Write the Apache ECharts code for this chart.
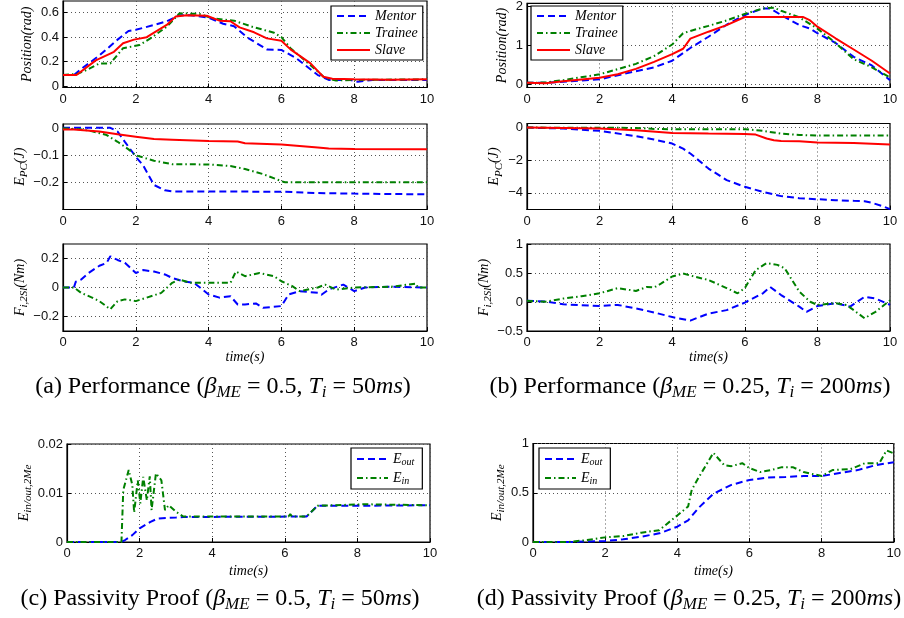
<!DOCTYPE html>
<html><head><meta charset="utf-8">
<script src="https://cdn.jsdelivr.net/npm/echarts@6/dist/echarts.min.js"></script>
<style>html,body{margin:0;padding:0;background:#fff}#c{width:904px;height:618px}</style>
</head><body><div id="c"></div>
<script>
// ---------- data ----------
const xTicks = [0, 2, 4, 6, 8, 10];
// (a) Position
const aPosMentor = [[0,0.09],[0.3,0.09],[0.5,0.14],[1,0.25],[1.5,0.38],[1.8,0.45],[2,0.46],[2.5,0.5],[2.85,0.53],[3.2,0.58],[3.5,0.58],[4,0.56],[4.4,0.51],[4.7,0.49],[5.05,0.4],[5.6,0.3],[6,0.295],[6.4,0.23],[7,0.09],[7.3,0.05],[7.9,0.05],[8.1,0.035],[8.5,0.05],[10,0.05]];
const aPosTrainee = [[0,0.09],[0.4,0.1],[0.64,0.13],[1,0.185],[1.3,0.185],[1.65,0.31],[2.1,0.335],[2.4,0.39],[2.85,0.485],[3.2,0.595],[3.75,0.59],[4.1,0.555],[4.7,0.535],[5.2,0.485],[5.8,0.436],[6,0.4],[6.25,0.31],[6.8,0.17],[7.2,0.065],[7.5,0.045],[8,0.05],[10,0.055]];
const aPosSlave = [[0,0.09],[0.37,0.09],[0.9,0.21],[1.4,0.28],[1.65,0.35],[1.95,0.38],[2.3,0.4],[2.85,0.5],[3.1,0.57],[3.4,0.58],[3.95,0.575],[4.3,0.535],[4.6,0.53],[4.85,0.48],[5.25,0.44],[5.6,0.39],[6,0.37],[6.25,0.3],[6.8,0.185],[7.15,0.076],[7.4,0.06],[8,0.055],[9,0.052],[10,0.055]];
// (b) Position
const bPosMentor = [[0,0.03],[0.5,0.03],[1,0.06],[2,0.12],[3,0.33],[3.5,0.43],[4,0.6],[4.5,0.93],[5,1.22],[5.5,1.53],[6,1.78],[6.5,1.95],[6.7,1.95],[7,1.78],[7.5,1.52],[7.8,1.43],[8,1.31],[8.5,1.06],[9,0.7],[9.5,0.48],[10,0.1]];
const bPosTrainee = [[0,0.03],[0.5,0.04],[1,0.1],[2,0.25],[3,0.52],[3.5,0.72],[4,1.02],[4.3,1.31],[4.5,1.37],[5,1.5],[5.5,1.64],[6,1.81],[6.5,1.95],[6.8,1.97],[7,1.89],[7.5,1.72],[8,1.43],[8.5,1.06],[9,0.64],[9.5,0.43],[10,0.17]];
const bPosSlave = [[0,0.03],[0.5,0.02],[1,0.07],[2,0.16],[2.5,0.25],[3,0.39],[3.5,0.57],[4,0.77],[4.3,0.91],[4.5,1.17],[5,1.35],[5.5,1.52],[6,1.73],[7.6,1.73],[7.8,1.64],[8,1.48],[8.5,1.18],[9,0.89],[9.5,0.6],[10,0.27]];
// (a) E_PC
const aEpcMentor = [[0,0.002],[1.3,0.002],[1.5,-0.012],[1.7,-0.05],[1.9,-0.087],[2,-0.106],[2.2,-0.137],[2.5,-0.21],[2.8,-0.23],[3,-0.234],[6,-0.235],[7,-0.24],[8,-0.242],[10,-0.245]];
const aEpcTrainee = [[0,0],[0.5,-0.004],[0.8,-0.011],[1.2,-0.025],[1.5,-0.05],[1.8,-0.078],[2,-0.1],[2.5,-0.12],[3,-0.133],[4,-0.134],[4.6,-0.14],[5,-0.151],[5.5,-0.17],[6,-0.196],[6.1,-0.2],[10,-0.2]];
const aEpcSlave = [[0,-0.004],[0.3,-0.004],[1,-0.012],[1.5,-0.022],[2,-0.031],[2.5,-0.04],[3,-0.042],[4,-0.047],[4.8,-0.049],[5,-0.055],[6,-0.06],[7,-0.071],[7.3,-0.075],[8,-0.077],[10,-0.078]];
// (b) E_PC
const bEpcMentor = [[0,0],[1,-0.06],[2,-0.2],[3,-0.53],[3.5,-0.73],[4,-0.98],[4.3,-1.29],[4.5,-1.59],[5,-2.51],[5.5,-3.22],[6,-3.63],[6.5,-3.94],[7,-4.2],[7.5,-4.33],[8,-4.39],[8.5,-4.45],[9,-4.49],[9.3,-4.51],[9.5,-4.61],[9.8,-4.82],[10,-5.0]];
const bEpcTrainee = [[0,0],[3,-0.02],[3.5,-0.08],[4,-0.1],[6,-0.1],[6.5,-0.2],[7,-0.37],[7.5,-0.45],[8,-0.49],[10,-0.49]];
const bEpcSlave = [[0,0],[2,-0.06],[3,-0.16],[4,-0.33],[5,-0.37],[6,-0.39],[6.3,-0.43],[6.6,-0.67],[6.8,-0.78],[7,-0.82],[7.5,-0.84],[8,-0.92],[9,-0.94],[10,-1.04]];
// (a) F
const aFMentor = [[0,0],[0.3,0],[0.35,0.04],[0.5,0.055],[0.7,0.1],[1,0.15],[1.2,0.17],[1.3,0.215],[1.5,0.19],[1.7,0.17],[2,0.1],[2.2,0.12],[2.5,0.11],[2.8,0.09],[3,0.066],[3.3,0.043],[3.6,0.032],[4,-0.048],[4.3,-0.07],[4.6,-0.06],[4.8,-0.117],[5,-0.117],[5.3,-0.11],[5.5,-0.14],[6,-0.128],[6.2,-0.048],[6.5,-0.025],[7,-0.037],[7.1,-0.05],[7.3,-0.014],[7.7,0.02],[8,-0.025],[8.3,0],[9,0.005],[10,0]];
const aFTrainee = [[0,0],[0.3,0],[0.5,-0.037],[0.8,-0.07],[1,-0.094],[1.3,-0.15],[1.5,-0.094],[1.7,-0.082],[2,-0.094],[2.3,-0.07],[2.7,-0.037],[3,0.032],[3.2,0.055],[3.5,0.032],[4,0.032],[4.6,0.032],[4.75,0.11],[5,0.078],[5.4,0.1],[5.8,0.078],[6,0.043],[6.3,0.009],[6.5,-0.025],[7,0],[7.2,0.02],[7.5,-0.014],[8,0],[9,0.005],[9.7,0.027],[9.75,0],[10,0]];
// (b) F
const bFMentor = [[0,0.02],[0.5,0.01],[1,-0.04],[2,-0.07],[2.5,-0.05],[3,-0.11],[3.5,-0.18],[4,-0.26],[4.5,-0.32],[5,-0.2],[5.5,-0.14],[6,-0.01],[6.5,0.15],[6.7,0.26],[7,0.12],[7.5,-0.08],[7.7,-0.17],[8,-0.07],[8.5,-0.02],[8.9,-0.08],[9.3,0.09],[9.6,0.06],[10,-0.05]];
const bFTrainee = [[0,0.02],[0.5,0.005],[1,0.06],[1.5,0.1],[2,0.15],[2.5,0.24],[3,0.19],[3.3,0.26],[3.5,0.25],[3.7,0.32],[4,0.44],[4.3,0.49],[4.6,0.44],[5,0.38],[5.5,0.24],[5.8,0.15],[6,0.24],[6.3,0.55],[6.6,0.67],[6.9,0.64],[7.1,0.58],[7.3,0.38],[7.5,0.18],[7.8,0.005],[8,-0.05],[8.5,-0.02],[8.8,-0.05],[9,-0.14],[9.3,-0.28],[9.6,-0.17],[10,0.03]];
// (c) passivity
const cEout = [[0,0],[1.5,0],[1.6,0.0004],[1.8,0.0014],[2,0.0028],[2.3,0.0041],[2.5,0.0048],[3,0.005],[3.2,0.0051],[6.6,0.0052],[6.9,0.0074],[8,0.0074],[10,0.0075]];
const cEin = [[0,0],[1.5,0],[1.55,0.0106],[1.7,0.0147],[1.8,0.0116],[1.85,0.006],[1.95,0.0126],[2.02,0.0079],[2.1,0.0133],[2.2,0.0085],[2.28,0.0134],[2.33,0.0065],[2.45,0.014],[2.6,0.0126],[2.7,0.0065],[2.8,0.0075],[3,0.0062],[3.2,0.0052],[6.1,0.0052],[6.15,0.0057],[6.2,0.0052],[6.6,0.0052],[6.9,0.0074],[8.2,0.0077],[10,0.0075]];
// (d) passivity
const dEout = [[0,0],[1,0],[2,0.01],[2.5,0.027],[3,0.054],[3.5,0.088],[4,0.155],[4.3,0.22],[4.6,0.35],[5,0.49],[5.5,0.58],[6,0.63],[6.5,0.655],[7,0.66],[7.5,0.67],[8,0.67],[8.5,0.7],[9,0.73],[9.5,0.78],[10,0.81]];
const dEin = [[0,0],[1,0],[1.5,0.02],[2,0.047],[2.5,0.06],[3,0.095],[3.5,0.12],[4,0.27],[4.3,0.36],[4.4,0.53],[4.6,0.66],[5,0.905],[5.3,0.78],[5.5,0.77],[5.8,0.8],[6,0.75],[6.3,0.71],[6.6,0.73],[6.9,0.76],[7.2,0.76],[7.5,0.71],[8,0.67],[8.3,0.73],[8.8,0.74],[9.2,0.8],[9.6,0.8],[9.8,0.93],[10,0.9]];
// tick labels
const yTicksA1 = [0, 0.2, 0.4, 0.6];
const yTicksB1 = [0, 1, 2];
const yTicksA2 = [-0.2, -0.1, 0];
const yTicksB2 = [-4, -2, 0];
const yTicksA3 = [-0.2, 0, 0.2];
const yTicksB3 = [-0.5, 0, 0.5, 1];
const yTicksC = [0, 0.01, 0.02];
const yTicksD = [0, 0.5, 1];

// ---------- styling / layout ----------
const SERIF = 'Liberation Serif';
const SANS = 'Liberation Sans';
const BLUE = '#0000ff', GREEN = '#008000', RED = '#ff0000';
const STYLE = {
  mentor: {color: BLUE, type: [7, 4]},
  trainee: {color: GREEN, type: [6, 3, 1.5, 3]},
  slave: {color: RED, type: 'solid'}
};
const grids = [
  {left: 63, top: 1, width: 364, height: 86.5},     // a1
  {left: 527, top: 1, width: 363, height: 86.5},    // b1
  {left: 63, top: 124, width: 364, height: 85.5},   // a2
  {left: 527, top: 123.5, width: 363, height: 86},  // b2
  {left: 63, top: 244, width: 364, height: 87},     // a3
  {left: 527, top: 244, width: 363, height: 87},    // b3
  {left: 67, top: 444, width: 363, height: 98},     // c
  {left: 533, top: 443.5, width: 364, height: 98.5} // d
].map(g => Object.assign({show: true, borderColor: '#000', borderWidth: 1.2, backgroundColor: '#fff', containLabel: false}, g));

const richBase = {
  i: {fontFamily: SERIF, fontStyle: 'italic', fontSize: 14, lineHeight: 18, color: '#000'},
  n: {fontFamily: SERIF, fontSize: 14, lineHeight: 18, color: '#000'},
  s: {fontFamily: SERIF, fontStyle: 'italic', fontSize: 11, lineHeight: 11, padding: [8, 0, 0, 0], color: '#000'}
};
const yNames = [
  '{i|Position(rad)}',
  '{i|Position(rad)}',
  '{i|E}{s|PC}{i|(J)}',
  '{i|E}{s|PC}{i|(J)}',
  '{i|F}{s|i,2Sl}{i|(Nm)}',
  '{i|F}{s|i,2Sl}{i|(Nm)}',
  '{i|E}{s|in/out,2Me}',
  '{i|E}{s|in/out,2Me}'
];
const yMinMax = [[-0.012, 0.696], [-0.09, 2.08], [-0.301, 0.016], [-5.02, 0.25], [-0.3, 0.3], [-0.5, 1], [0, 0.02], [0, 1]];
const yTicks = [yTicksA1, yTicksB1, yTicksA2, yTicksB2, yTicksA3, yTicksB3, yTicksC, yTicksD];
const yNameGap = [27, 16, 30, 22, 33, 33, 33, 27];
const showTime = [false, false, false, false, true, true, true, true];

const fmt = v => String(+(+v).toFixed(4)).replace('-', '\u2212');
const dotted = {show: true, lineStyle: {color: '#555', width: 1, type: [1, 3]}};

const xAxis = grids.map((g, i) => ({
  type: 'value', gridIndex: i, min: 0, max: 10, interval: 2,
  axisLine: {show: true, onZero: false, lineStyle: {color: '#000', width: 1.2}},
  axisTick: {show: true, inside: true, length: 4, lineStyle: {color: '#000'}},
  axisLabel: {fontFamily: SANS, fontSize: 13, color: '#111', margin: 5},
  splitLine: dotted,
  name: showTime[i] ? '{i|time(s)}' : '',
  nameLocation: 'middle', nameGap: i >= 6 ? 20 : 17,
  nameTextStyle: {rich: richBase}
}));
const yAxis = grids.map((g, i) => ({
  type: 'value', gridIndex: i, min: yMinMax[i][0], max: yMinMax[i][1],
  axisLine: {show: true, onZero: false, lineStyle: {color: '#000', width: 1.2}},
  axisTick: {show: true, inside: true, length: 4, customValues: yTicks[i], lineStyle: {color: '#000'}},
  axisLabel: {fontFamily: SANS, fontSize: 13, color: '#111', margin: 4, customValues: yTicks[i], formatter: fmt},
  splitLine: Object.assign({customValues: yTicks[i]}, dotted),
  name: yNames[i], nameLocation: 'middle', nameRotate: 90, nameGap: yNameGap[i],
  nameTextStyle: {rich: richBase}
}));

function mk(name, data, gi, kind) {
  const st = STYLE[kind];
  return {
    name, type: 'line', xAxisIndex: gi, yAxisIndex: gi, data,
    symbol: 'none', showSymbol: false, animation: false, silent: true,
    lineStyle: {color: st.color, width: 2, type: st.type},
    itemStyle: {color: st.color}
  };
}
const series = [
  mk('Mentor', aPosMentor, 0, 'mentor'), mk('Trainee', aPosTrainee, 0, 'trainee'), mk('Slave', aPosSlave, 0, 'slave'),
  mk('Mentor', bPosMentor, 1, 'mentor'), mk('Trainee', bPosTrainee, 1, 'trainee'), mk('Slave', bPosSlave, 1, 'slave'),
  mk('Mentor', aEpcMentor, 2, 'mentor'), mk('Trainee', aEpcTrainee, 2, 'trainee'), mk('Slave', aEpcSlave, 2, 'slave'),
  mk('Mentor', bEpcMentor, 3, 'mentor'), mk('Trainee', bEpcTrainee, 3, 'trainee'), mk('Slave', bEpcSlave, 3, 'slave'),
  mk('Mentor', aFMentor, 4, 'mentor'), mk('Trainee', aFTrainee, 4, 'trainee'),
  mk('Mentor', bFMentor, 5, 'mentor'), mk('Trainee', bFTrainee, 5, 'trainee'),
  mk('Eout', cEout, 6, 'mentor'), mk('Ein', cEin, 6, 'trainee'),
  mk('Eout', dEout, 7, 'mentor'), mk('Ein', dEin, 7, 'trainee')
];

const legRich = {
  i: {fontFamily: SERIF, fontStyle: 'italic', fontSize: 14, lineHeight: 14, color: '#000'},
  s: {fontFamily: SERIF, fontStyle: 'italic', fontSize: 10, lineHeight: 10, padding: [6, 0, 0, 0], color: '#000'}
};
const legFmt = n => n === 'Eout' ? '{i|E}{s|out}' : n === 'Ein' ? '{i|E}{s|in}' : '{i|' + n + '}';
function leg(names, left, top, iw, pad) {
  return {
    data: names, left, top, orient: 'vertical', itemGap: 3, itemWidth: iw, itemHeight: 14,
    backgroundColor: '#fff', borderColor: '#000', borderWidth: 1.2, padding: pad,
    selectedMode: false, formatter: legFmt,
    itemStyle: {opacity: 0, borderWidth: 0},
    lineStyle: {width: 2},
    textStyle: {fontFamily: SERIF, fontStyle: 'italic', fontSize: 14, color: '#000', rich: legRich}
  };
}
const legend = [
  leg(['Mentor', 'Trainee', 'Slave'], 331, 6, 33, [3, 5, 3, 5]),
  leg(['Mentor', 'Trainee', 'Slave'], 531, 6, 33, [3, 5, 3, 5]),
  leg(['Eout', 'Ein'], 351, 448, 31, [3, 8, 3, 5]),
  leg(['Eout', 'Ein'], 539, 448, 31, [3, 8, 3, 5])
];

const capRich = {
  n: {fontFamily: SERIF, fontSize: 24, lineHeight: 28, color: '#000'},
  i: {fontFamily: SERIF, fontStyle: 'italic', fontSize: 24, lineHeight: 28, color: '#000'},
  s: {fontFamily: SERIF, fontStyle: 'italic', fontSize: 17, lineHeight: 17, padding: [12, 0, 0, 0], color: '#000'}
};
const captions = [
  ['{n|(a) Performance (}{i|\u03B2}{s|ME}{n| = 0.5, }{i|T}{s|i}{n| = 50}{i|ms}{n|)}', 223, 387],
  ['{n|(b) Performance (}{i|\u03B2}{s|ME}{n| = 0.25, }{i|T}{s|i}{n| = 200}{i|ms}{n|)}', 690, 387],
  ['{n|(c) Passivity Proof (}{i|\u03B2}{s|ME}{n| = 0.5, }{i|T}{s|i}{n| = 50}{i|ms}{n|)}', 220, 599],
  ['{n|(d) Passivity Proof (}{i|\u03B2}{s|ME}{n| = 0.25, }{i|T}{s|i}{n| = 200}{i|ms}{n|)}', 689, 599]
];
const graphic = captions.map(c => ({
  type: 'text', x: c[1], y: c[2], silent: true,
  style: {text: c[0], rich: capRich, align: 'center', verticalAlign: 'middle'}
}));

const chart = echarts.init(document.getElementById('c'), null, {renderer: 'canvas'});
chart.setOption({
  animation: false, backgroundColor: '#fff',
  grid: grids, xAxis, yAxis, series, legend, graphic
});
</script></body></html>
